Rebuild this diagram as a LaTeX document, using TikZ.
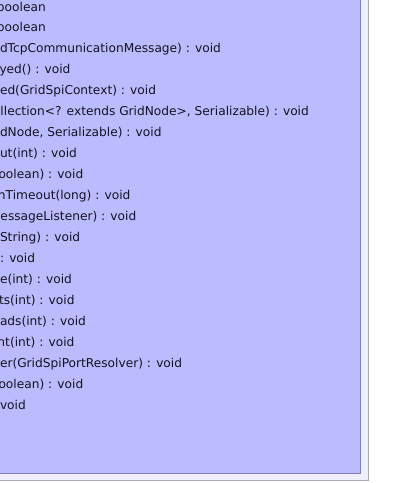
\documentclass[tikz,border=0pt]{standalone}
\usepackage{fontspec}
\setmainfont{DejaVu Sans}
\definecolor{innerfill}{RGB}{187,187,255}
\definecolor{innerdraw}{RGB}{128,128,176}
\definecolor{outerfill}{RGB}{238,238,255}
\definecolor{outerdraw}{RGB}{168,168,184}
\definecolor{txt}{RGB}{20,20,30}
\begin{document}
\begin{tikzpicture}[x=1pt,y=-1pt,
  member/.style={anchor=base west,inner sep=0pt,outer sep=0pt,font=\fontsize{12.2}{14}\selectfont,text=txt}]
\useasboundingbox (0,0) rectangle (405,483);
\clip (0,0) rectangle (405,483);
\draw[fill=outerfill,draw=outerdraw,line width=1pt] (-10,-10) rectangle (368.5,480.5);
\draw[fill=innerfill,draw=innerdraw,line width=1pt] (-10,-10) rectangle (360.5,473.5);
\node[member] (m1)  at (-3,11)            {boolean};
\node[member] (m2)  at (-3,31.95)         {boolean};
\node[member] (m3)  at (0,52.9)           {dTcpCommunicationMessage) : void};
\node[member] (m4)  at (-0.5,73.85)       {yed() : void};
\node[member] (m5)  at (0,94.8)           {ed(GridSpiContext) : void};
\node[member] (m6)  at (0.5,115.75)       {llection<? extends GridNode>, Serializable) : void};
\node[member] (m7)  at (0,136.7)          {dNode, Serializable) : void};
\node[member] (m8)  at (0,157.65)         {ut(int) : void};
\node[member] (m9)  at (-1.5,178.6)       {oolean) : void};
\node[member] (m10) at (-2,199.55)        {nTimeout(long) : void};
\node[member] (m11) at (0.5,220.5)        {essageListener) : void};
\node[member] (m12) at (0,241.45)         {String) : void};
\node[member] (m13) at (0,262.4)          {: void};
\node[member] (m14) at (0,283.35)         {e(int) : void};
\node[member] (m15) at (-1,304.3)         {ts(int) : void};
\node[member] (m16) at (0,325.25)         {ads(int) : void};
\node[member] (m17) at (-2.5,346.2)       {nt(int) : void};
\node[member] (m18) at (0,367.15)         {er(GridSpiPortResolver) : void};
\node[member] (m19) at (-1.5,388.1)       {oolean) : void};
\node[member] (m20) at (0,409.05)         {void};
\end{tikzpicture}
\end{document}
